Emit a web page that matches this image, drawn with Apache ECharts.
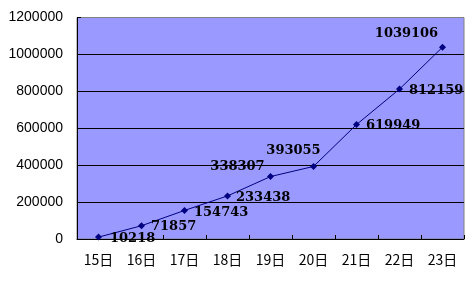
<!DOCTYPE html>
<html>
<head>
<meta charset="utf-8">
<script src="https://cdn.jsdelivr.net/npm/echarts@6/dist/echarts.min.js"></script>
<style>html,body{margin:0;padding:0;background:#fff;}#c{width:473px;height:281px;}</style>
</head>
<body>
<div id="c"></div>
<script>
const categories = ['15日','16日','17日','18日','19日','20日','21日','22日','23日'];
const values = [10218, 71857, 154743, 233438, 338307, 393055, 619949, 812159, 1039106];
const yMin = 0, yMax = 1200000, yStep = 200000;

// label placement per point (style only)
const labelPlacement = [
  {position:'right', distance:8, offset:[0,2]},
  {position:'right', distance:6, offset:[0,1]},
  {position:'right', distance:6, offset:[0,2]},
  {position:'right', distance:5, offset:[0,2]},
  {position:'inside', offset:[-33,-10]},
  {position:'inside', offset:[-20,-16]},
  {position:'right', distance:6, offset:[0,1]},
  {position:'right', distance:6, offset:[0,2]},
  {position:'inside', offset:[-36,-14]}
];

const chart = echarts.init(document.getElementById('c'), null, {renderer:'canvas'});
chart.setOption({
  backgroundColor:'#ffffff',
  animation:false,
  grid:{left:77, top:17.5, right:9, bottom:42, show:true, backgroundColor:'#9999FF', borderColor:'#808080', borderWidth:1},
  xAxis:{
    type:'category', data:categories, boundaryGap:true,
    axisLine:{lineStyle:{color:'#000', width:1}},
    axisTick:{show:true, inside:true, length:4, lineStyle:{color:'#000'}},
    axisLabel:{color:'#000', fontFamily:'Noto Sans CJK SC', fontSize:14, margin:14}
  },
  yAxis:{
    type:'value', min:yMin, max:yMax, interval:yStep,
    axisLine:{show:true, lineStyle:{color:'#000', width:1}},
    axisTick:{show:true, inside:true, length:4, lineStyle:{color:'#000'}},
    splitLine:{show:true, showMaxLine:false, lineStyle:{color:'#000', width:1}},
    axisLabel:{color:'#000', fontFamily:'Liberation Sans', fontSize:14, margin:14, formatter:v=>String(v)}
  },
  series:[{
    type:'line',
    data: values.map((v,i)=>({value:v, label:Object.assign({show:true}, labelPlacement[i])})),
    symbol:'diamond', symbolSize:7,
    lineStyle:{color:'#000080', width:1},
    itemStyle:{color:'#000080'},
    label:{show:true, color:'#000', fontFamily:'DejaVu Serif', fontWeight:'bold', fontSize:13}
  }]
});
</script>
</body>
</html>
